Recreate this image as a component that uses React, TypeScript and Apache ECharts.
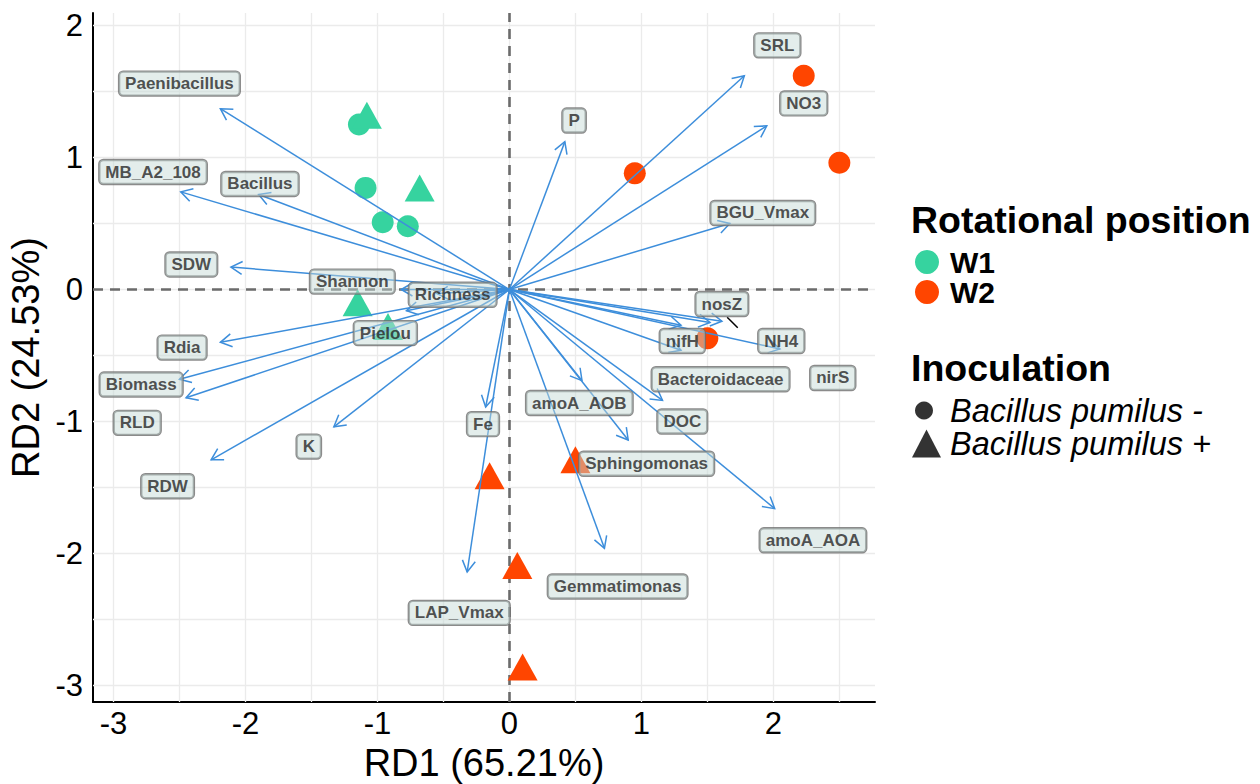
import React, { useEffect, useRef } from 'react';
import * as echarts from 'echarts';

// ---- Sample scores (RD1, RD2) ----
const w1Circles: number[][] = [[-1.14, 1.25], [-1.09, 0.77], [-0.96, 0.51], [-0.77, 0.48]];
const w1Triangles: number[][] = [[-1.08, 1.32], [-0.68, 0.77], [-1.15, -0.10], [-0.92, -0.28]];
const w2Circles: number[][] = [[2.23, 1.62], [2.50, 0.96], [0.95, 0.88], [1.50, -0.37]];
const w2Triangles: number[][] = [[0.50, -1.29], [-0.15, -1.41], [0.06, -2.09], [0.10, -2.86]];

// ---- Explanatory variables: arrow tips and label positions ----
const variableNames = [
  'Paenibacillus', 'MB_A2_108', 'Bacillus', 'SDW', 'Shannon', 'Richness', 'Pielou',
  'Rdia', 'Biomass', 'RLD', 'K', 'RDW', 'Fe', 'LAP_Vmax',
  'P', 'SRL', 'NO3', 'BGU_Vmax', 'nosZ', 'nirS', 'nifH', 'NH4', 'Bacteroidaceae',
  'DOC', 'amoA_AOB', 'Sphingomonas', 'amoA_AOA', 'Gemmatimonas',
];
const arrowX = [
  -2.19, -2.49, -1.90, -2.11, -0.82, -0.55, -0.78,
  -2.19, -2.50, -2.45, -1.33, -2.26, -0.18, -0.32,
  0.42, 1.78, 1.95, 1.67, 1.61, 1.52, 1.30, 2.05, 1.30,
  1.16, 0.55, 0.90, 2.01, 0.72,
];
const arrowY = [
  1.37, 0.74, 0.72, 0.17, 0.00, -0.03, -0.16,
  -0.40, -0.68, -0.82, -1.04, -1.29, -0.89, -2.14,
  1.12, 1.62, 1.24, 0.50, -0.24, -0.25, -0.27, -0.45, -0.46,
  -0.84, -0.69, -1.14, -1.66, -1.96,
];
const labelX = [
  -2.50, -2.70, -1.89, -2.41, -1.19, -0.43, -0.94,
  -2.48, -2.79, -2.82, -1.52, -2.59, -0.20, -0.38,
  0.49, 2.03, 2.23, 1.92, 1.61, 2.45, 1.31, 2.06, 1.60,
  1.31, 0.53, 1.04, 2.30, 0.82,
];
const labelY = [
  1.56, 0.89, 0.80, 0.19, 0.06, -0.04, -0.33,
  -0.44, -0.72, -1.01, -1.19, -1.49, -1.02, -2.45,
  1.28, 1.85, 1.41, 0.58, -0.11, -0.67, -0.39, -0.39, -0.68,
  -1.00, -0.86, -1.32, -1.90, -2.25,
];
// ggrepel leader segment for nosZ
const nosZSegment: number[][] = [[1.65, -0.21], [1.73, -0.29]];

// ---- Axes ----
const xTicks = [-3, -2, -1, 0, 1, 2];
const yTicks = [-3, -2, -1, 0, 1, 2];
const xGrid = [-3, -2.5, -2, -1.5, -1, -0.5, 0, 0.5, 1, 1.5, 2, 2.5];
const yGrid = [-3, -2.5, -2, -1.5, -1, -0.5, 0, 0.5, 1, 1.5, 2];

const FONT = "'Liberation Sans', Arial, Helvetica, sans-serif";
const GREEN = '#36D39F';
const ORANGE = '#FF4500';
const ARROW = '#3D8EDB';

export default function App() {
  const ref = useRef<HTMLDivElement>(null);

  useEffect(() => {
    if (!ref.current) return;
    const chart = echarts.init(ref.current, undefined, { renderer: 'svg' });

    const pts = (c: number[][], t: number[][]) => [
      ...c.map((p) => ({ value: p, symbol: 'circle', symbolSize: 22 })),
      ...t.map((p) => ({ value: p, symbol: 'triangle', symbolSize: [30, 27] })),
    ];

    const gridLine = { color: '#EBEBEB', width: 1.3, type: 'solid' };
    const dashLine = { color: '#6B6B6B', width: 2.6, type: [10, 7] };

    const option: any = {
      animation: false,
      grid: { left: 93, top: 13, width: 782, height: 689, show: false, outerBoundsMode: 'none' },
      xAxis: {
        type: 'value', min: -3.155, max: 2.77,
        axisLine: { show: true, onZero: false, lineStyle: { color: '#000', width: 2 } },
        axisTick: { show: false },
        splitLine: { show: false },
        axisLabel: { customValues: xTicks, fontSize: 31, color: '#000', margin: 6, fontFamily: FONT },
        name: 'RD1 (65.21%)', nameLocation: 'middle', nameGap: 40,
        nameTextStyle: { fontSize: 38, color: '#000', fontFamily: FONT },
      },
      yAxis: {
        type: 'value', min: -3.125, max: 2.095,
        axisLine: { show: true, onZero: false, lineStyle: { color: '#000', width: 2 } },
        axisTick: { show: false },
        splitLine: { show: false },
        axisLabel: { customValues: yTicks, fontSize: 31, color: '#000', margin: 10, fontFamily: FONT },
        name: 'RD2 (24.53%)', nameLocation: 'middle', nameGap: 44,
        nameTextStyle: { fontSize: 38, color: '#000', fontFamily: FONT },
      },
      title: [
        { text: 'Rotational position', left: 911, top: 201, padding: 0,
          textStyle: { fontSize: 37.5, fontWeight: 'bold', color: '#000', fontFamily: FONT, lineHeight: 37 } },
        { text: 'Inoculation', left: 911, top: 349, padding: 0,
          textStyle: { fontSize: 37.5, fontWeight: 'bold', color: '#000', fontFamily: FONT, lineHeight: 37 } },
      ],
      legend: [
        {
          data: [{ name: 'W1', icon: 'circle' }, { name: 'W2', icon: 'circle' }],
          orient: 'vertical', left: 915, top: 247, padding: 0, itemWidth: 24, itemHeight: 24, itemGap: 0,
          selectedMode: false,
          textStyle: { fontSize: 30, fontWeight: 'bold', color: '#000', fontFamily: FONT, lineHeight: 24, padding: [0, 0, 0, 6] },
        },
        {
          data: [{ name: 'Bacillus pumilus -', icon: 'circle' }],
          orient: 'vertical', left: 915, top: 394, padding: 0, itemWidth: 18, itemHeight: 18,
          selectedMode: false,
          textStyle: { fontSize: 32.5, fontStyle: 'italic', color: '#000', fontFamily: FONT, lineHeight: 18, padding: [0, 0, 0, 12] },
        },
        {
          data: [{ name: 'Bacillus pumilus +', icon: 'triangle' }],
          orient: 'vertical', left: 912, top: 427, padding: 0, itemWidth: 29, itemHeight: 28,
          selectedMode: false,
          textStyle: { fontSize: 32.5, fontStyle: 'italic', color: '#000', fontFamily: FONT, lineHeight: 28, padding: [0, 0, 0, 4] },
        },
      ],
      series: [
        {
          type: 'line', z: 1, silent: true, data: [[0, 0]], symbol: 'none',
          lineStyle: { opacity: 0 },
          markLine: {
            z: 1, silent: true, symbol: ['none', 'none'], label: { show: false }, animation: false,
            data: [
              ...xGrid.map((v) => ({ xAxis: v, lineStyle: gridLine })),
              ...yGrid.map((v) => ({ yAxis: v, lineStyle: gridLine })),
              { xAxis: 0, lineStyle: dashLine },
              { yAxis: 0, lineStyle: dashLine },
            ],
          },
        },
        {
          name: 'W1', type: 'scatter', z: 6, silent: true,
          itemStyle: { color: GREEN, opacity: 1 },
          data: pts(w1Circles, w1Triangles),
        },
        {
          name: 'W2', type: 'scatter', z: 6, silent: true,
          itemStyle: { color: ORANGE, opacity: 1 },
          data: pts(w2Circles, w2Triangles),
        },
        { name: 'Bacillus pumilus -', type: 'scatter', symbol: 'circle', itemStyle: { color: '#000' }, data: [] },
        { name: 'Bacillus pumilus +', type: 'scatter', symbol: 'triangle', itemStyle: { color: '#000' }, data: [] },
        {
          type: 'custom', z: 7, silent: true,
          data: arrowX.map((x, i) => [x, arrowY[i]]),
          encode: { x: 0, y: 1 },
          renderItem: (params: any, api: any) => {
            const tip = api.coord([api.value(0), api.value(1)]);
            const o = api.coord([0, 0]);
            const ang = Math.atan2(tip[1] - o[1], tip[0] - o[0]);
            const L = 13;
            const a = Math.PI / 6;
            const p1 = [tip[0] - L * Math.cos(ang - a), tip[1] - L * Math.sin(ang - a)];
            const p2 = [tip[0] - L * Math.cos(ang + a), tip[1] - L * Math.sin(ang + a)];
            const st = { stroke: ARROW, lineWidth: 1.5, fill: 'none' };
            return {
              type: 'group',
              children: [
                { type: 'line', shape: { x1: o[0], y1: o[1], x2: tip[0], y2: tip[1] }, style: st },
                { type: 'polyline', shape: { points: [p1, tip, p2] }, style: st },
              ],
            };
          },
        },
        {
          type: 'line', z: 7, silent: true, data: nosZSegment, symbol: 'none',
          lineStyle: { color: '#000', width: 1.5 },
        },
        {
          type: 'scatter', z: 8, silent: true, symbolSize: 1,
          itemStyle: { color: 'transparent' },
          data: variableNames.map((n, i) => ({ name: n, value: [labelX[i], labelY[i]] })),
          label: {
            show: true, position: 'inside', formatter: '{b}',
            fontSize: 17, fontWeight: 'bold', color: '#262626', fontFamily: FONT,
            textBorderWidth: 0,
            backgroundColor: 'rgba(196,218,214,0.6)', borderColor: '#6E6E6E', borderWidth: 1.2,
            borderRadius: 4, padding: [4, 6, 3, 6],
          },
        },
      ],
    };

    chart.setOption(option);
    return () => chart.dispose();
  }, []);

  return (
    <div
      ref={ref}
      style={{ position: 'fixed', left: 0, top: 0, width: 1260, height: 784, background: '#fff' }}
    />
  );
}
